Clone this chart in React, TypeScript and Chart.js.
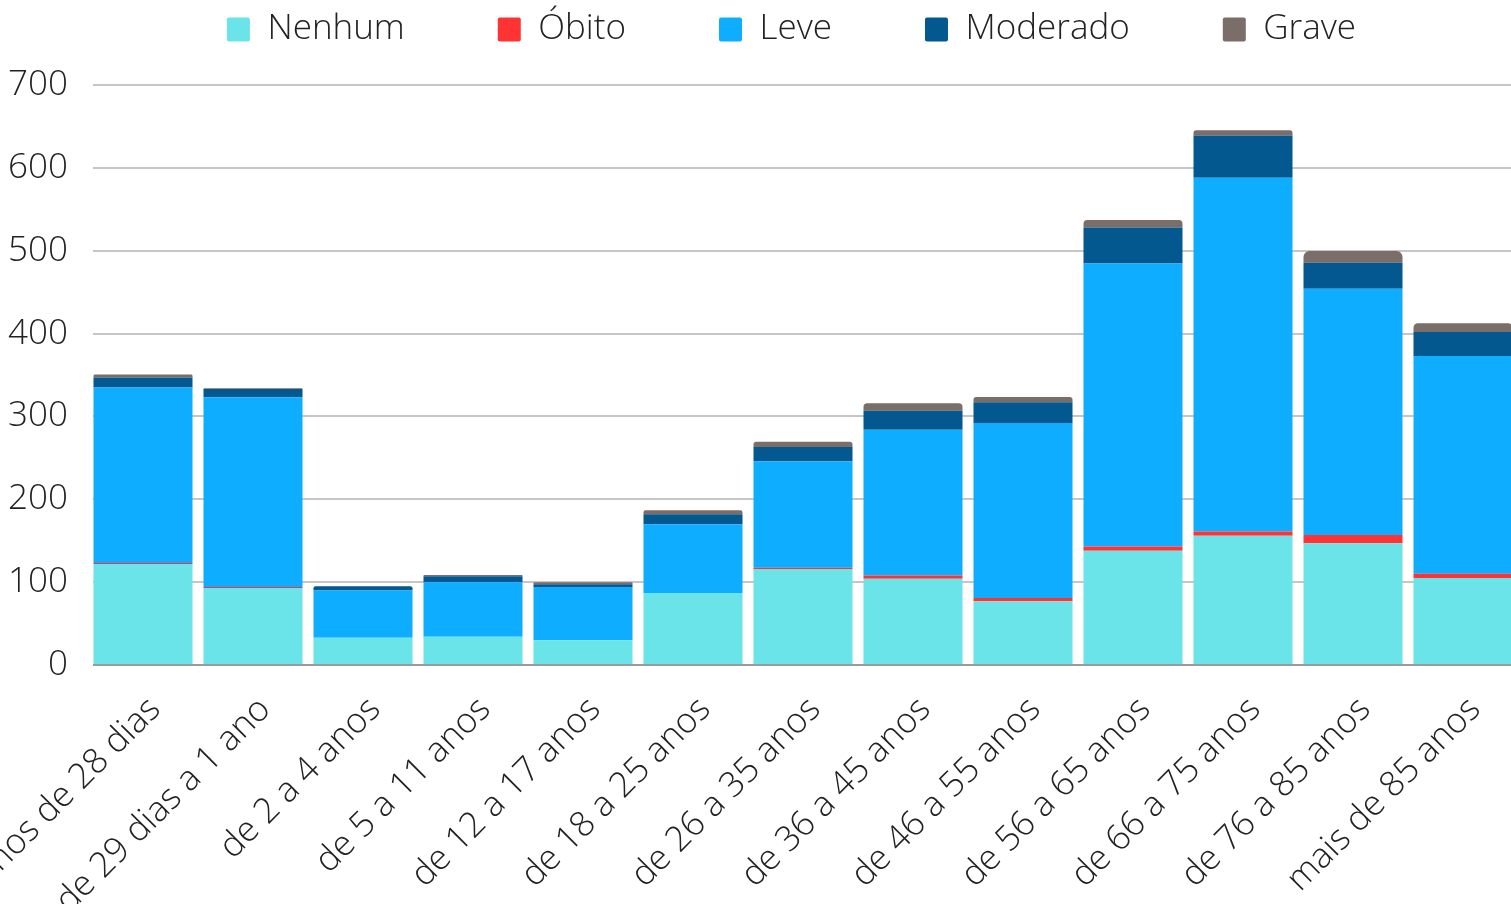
import { useEffect, useRef } from "react";
import { Chart, registerables } from "chart.js";

Chart.register(...registerables);

const categories = [
  "menos de 28 dias",
  "de 29 dias a 1 ano",
  "de 2 a 4 anos",
  "de 5 a 11 anos",
  "de 12 a 17 anos",
  "de 18 a 25 anos",
  "de 26 a 35 anos",
  "de 36 a 45 anos",
  "de 46 a 55 anos",
  "de 56 a 65 anos",
  "de 66 a 75 anos",
  "de 76 a 85 anos",
  "mais de 85 anos",
];

const nenhum = [122, 93, 33, 34, 30, 87, 116, 104, 77, 138, 156, 147, 105];
const obito = [1, 1, 0, 0, 0, 0, 1.5, 4, 4, 5, 5, 10, 5];
const leve = [212, 229, 57, 66, 64, 83, 128.5, 176, 211, 341.5, 427, 297, 263];
const moderado = [12, 10, 5, 7, 3.6, 12, 17, 23, 25, 43.5, 51, 31.4, 29];
const grave = [3.6, 1, 0, 1.6, 2.4, 4.8, 6.5, 9, 6.4, 9, 6.5, 14.4, 10.5];

const seriesNames = ["Nenhum", "Óbito", "Leve", "Moderado", "Grave"];
const seriesColors = ["#6ae4e8", "#ff3333", "#0eadff", "#02588f", "#7b6d67"];

const yTicks = { min: 0, max: 700, step: 100 };

const FONT = { family: "'Open Sans', sans-serif", size: 35, weight: "300" as any };
const TEXT = "#222222";

// Adds empty space under the legend and nudges the legend row to the right.
const legendGap = {
  id: "legendGap",
  beforeLayout(chart: any) {
    const lg = chart.legend;
    if (lg && !lg.__gapPatched) {
      const orig = lg.fit.bind(lg);
      lg.fit = () => {
        orig();
        lg.height += 28;
        if (lg.lineWidths && lg.lineWidths.length) lg.lineWidths[0] -= 65;
      };
      lg.__gapPatched = true;
    }
  },
};

// Gridlines start a few pixels right of the plot's left edge.
const gridInset = {
  id: "gridInset",
  beforeDatasetsDraw(chart: any) {
    const { ctx, chartArea } = chart;
    ctx.save();
    ctx.fillStyle = "#ffffff";
    ctx.fillRect(chartArea.left - 1, chartArea.top - 3, 6, chartArea.bottom - chartArea.top + 6);
    ctx.restore();
  },
};

export default function App() {
  const ref = useRef<HTMLCanvasElement | null>(null);

  useEffect(() => {
    document.body.style.margin = "0";
    document.body.style.overflow = "hidden";
    document.documentElement.style.overflow = "hidden";
    const values = [nenhum, obito, leve, moderado, grave];
    const chart = new Chart(ref.current as HTMLCanvasElement, {
      type: "bar",
      data: {
        labels: categories,
        datasets: seriesNames.map((name, i) => ({
          label: name,
          data: values[i],
          backgroundColor: seriesColors[i],
          borderColor: seriesColors[i],
          borderWidth: 0,
          borderRadius: 8,
          categoryPercentage: 1,
          barPercentage: 0.9,
        })),
      },
      plugins: [legendGap, gridInset],
      options: {
        responsive: false,
        animation: false,
        layout: { padding: { top: -81, left: 0, right: 0, bottom: 0 } },
        plugins: {
          tooltip: { enabled: false },
          legend: {
            position: "top",
            labels: {
              font: FONT,
              color: TEXT,
              boxWidth: 23,
              boxHeight: 24,
              padding: 93,
              useBorderRadius: true,
              borderRadius: 2,
            },
          },
        },
        scales: {
          x: {
            stacked: true,
            grid: { display: false },
            border: { display: false },
            ticks: {
              font: FONT,
              color: TEXT,
              minRotation: 45,
              maxRotation: 45,
              autoSkip: false,
              padding: 16,
              labelOffset: 12,
            },
            afterFit: (s: any) => {
              s.height = 239;
              s.paddingLeft = 0;
              s.paddingRight = 0;
            },
          },
          y: {
            stacked: true,
            min: yTicks.min,
            max: yTicks.max,
            border: { display: false },
            grid: {
              drawTicks: false,
              lineWidth: 2,
              color: (c: any) => (c.tick && c.tick.value === 0 ? "#9a9a9a" : "#c6c6c6"),
            },
            ticks: {
              stepSize: yTicks.step,
              font: FONT,
              color: TEXT,
              padding: 20,
            },
            afterFit: (s: any) => {
              s.width = 88;
              s.paddingTop = 0;
              s.paddingBottom = 0;
            },
          },
        },
      },
    });
    return () => chart.destroy();
  }, []);

  return <canvas ref={ref} width={1518} height={904} style={{ display: "block" }} />;
}
